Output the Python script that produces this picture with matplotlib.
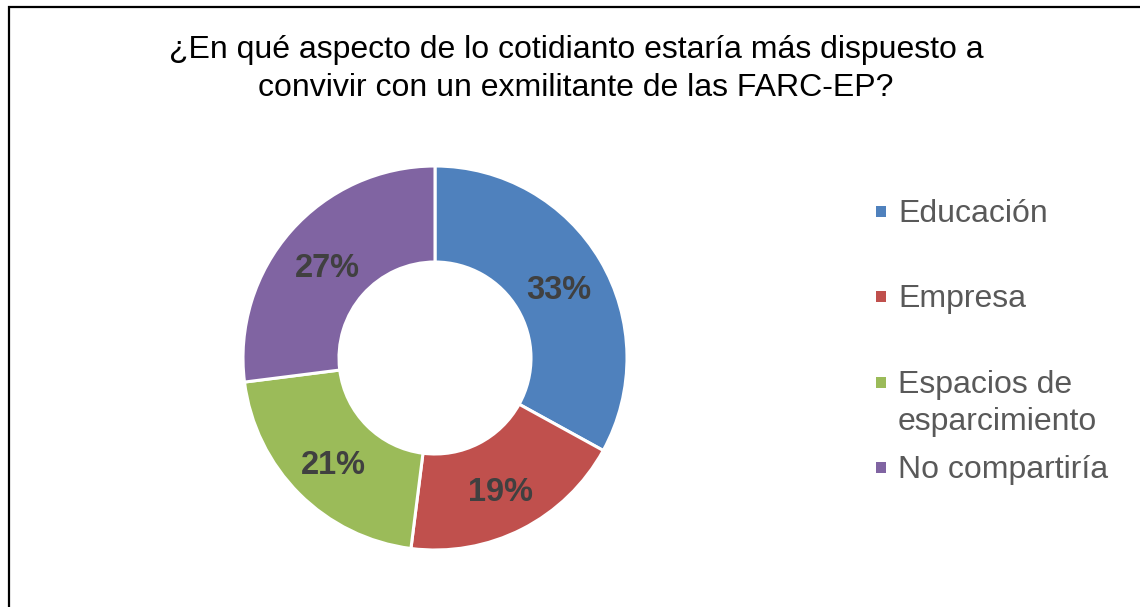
import matplotlib.pyplot as plt
from matplotlib.patches import Rectangle
from matplotlib.transforms import offset_copy

plt.rcParams['font.family'] = ['Liberation Sans', 'DejaVu Sans']

title = "¿En qué aspecto de lo cotidianto estaría más dispuesto a\nconvivir con un exmilitante de las FARC-EP?"
categories = ["Educación", "Empresa", "Espacios de\nesparcimiento", "No compartiría"]
values = [33, 19, 21, 27]
colors = ['#4F81BD', '#C0504D', '#9BBB59', '#8064A2']

W, H = 1140, 607
fig = plt.figure(figsize=(W / 100, H / 100), dpi=100)

# outer frame (bottom and right edges run off the picture)
fig.patches.append(Rectangle((9 / W, -0.1), 1.2, (H - 7) / H + 0.1, transform=fig.transFigure,
                             fill=False, edgecolor='black', linewidth=1.6, clip_on=False))

# title, one line at a time so the baselines land where they should
for j, line in enumerate(title.split('\n')):
    fig.text(576 / W, 1 - (58 + 38 * j) / H, line, ha='center', va='baseline',
             fontsize=23, color='black')

# donut
cx, cy, r = 435, 358, 192
ax = fig.add_axes([(cx - r) / W, 1 - (cy + r) / H, 2 * r / W, 2 * r / H])
wedges, texts, autotexts = ax.pie(values, colors=colors, startangle=90, counterclock=False,
                                  autopct='%1.0f%%', pctdistance=0.75,
                                  wedgeprops=dict(width=0.5, edgecolor='white', linewidth=2.2))
for t in autotexts:
    t.set_fontsize(23.5)
    t.set_fontweight('bold')
    t.set_color('#404040')
    # Excel sits the labels a touch lower
    t.set_transform(offset_copy(ax.transData, fig=fig, x=0, y=-6, units='dots'))
ax.set_xlim(-1, 1)
ax.set_ylim(-1, 1)
ax.set_aspect('equal')
ax.axis('off')

# legend, laid out like the Excel one
for i, (lab, col) in enumerate(zip(categories, colors)):
    base = 222 + 85.4 * i
    for j, line in enumerate(lab.split('\n')):
        fig.text(898 / W, 1 - (base + 37 * j) / H, line, ha='left', va='baseline',
                 fontsize=23, color='#595959')
    fig.patches.append(Rectangle((876 / W, 1 - (base - 5) / H), 10.5 / W, 11 / H,
                                 transform=fig.transFigure, facecolor=col, edgecolor='none'))

fig.savefig('out.png', dpi=100, facecolor='white')
